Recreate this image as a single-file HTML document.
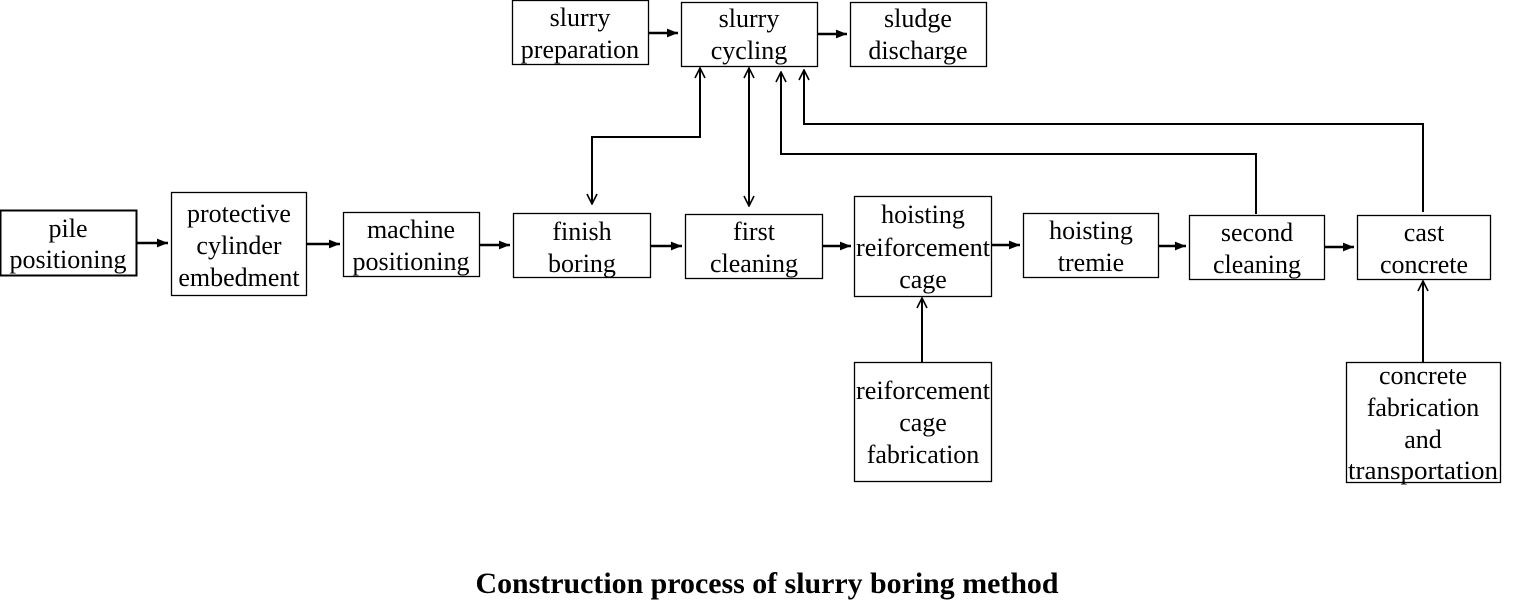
<!DOCTYPE html>
<html><head><meta charset="utf-8"><style>
html,body{margin:0;padding:0;background:#fff;}
svg{display:block;}
text{font-family:"Liberation Serif",serif;font-size:26px;fill:#000;}
</style></head><body>
<svg width="1513" height="607" viewBox="0 0 1513 607" xmlns="http://www.w3.org/2000/svg">
<defs>
<marker id="f" viewBox="0 0 10 10" refX="10" refY="5" markerWidth="11" markerHeight="11" markerUnits="userSpaceOnUse" orient="auto"><path d="M0,1 L10,5 L0,9z" fill="#000"/></marker>
<marker id="o" viewBox="0 0 12 12" refX="11" refY="6" markerWidth="12" markerHeight="12" markerUnits="userSpaceOnUse" orient="auto-start-reverse"><path d="M1,1 L11,6 L1,11" fill="none" stroke="#000" stroke-width="1.6"/></marker>
</defs>
<g fill="#fff" stroke="#000" stroke-width="1.3">
<rect x="0.5" y="210.5" width="136" height="65" stroke-width="2"/>
<rect x="171.5" y="192.5" width="135" height="103"/>
<rect x="343.5" y="212.5" width="136" height="64"/>
<rect x="513.5" y="213.5" width="137" height="64"/>
<rect x="685.5" y="214.5" width="137" height="64"/>
<rect x="854.5" y="196.5" width="137" height="100"/>
<rect x="1023.5" y="213.5" width="135" height="64"/>
<rect x="1189.5" y="215.5" width="135" height="64"/>
<rect x="1357.5" y="215.5" width="133" height="64"/>
<rect x="512.5" y="0.5" width="136" height="64"/>
<rect x="681.5" y="2.5" width="136" height="64"/>
<rect x="850.5" y="2.5" width="136" height="64"/>
<rect x="854.5" y="362.5" width="137" height="119"/>
<rect x="1346.5" y="362.5" width="154" height="120"/>
</g>
<g stroke="#000" stroke-width="2.5" fill="none">
<line x1="137" y1="243" x2="168" y2="243" marker-end="url(#f)"/>
<line x1="307" y1="244" x2="340" y2="244" marker-end="url(#f)"/>
<line x1="479" y1="245" x2="510" y2="245" marker-end="url(#f)"/>
<line x1="650" y1="246" x2="682" y2="246" marker-end="url(#f)"/>
<line x1="822" y1="246" x2="851" y2="246" marker-end="url(#f)"/>
<line x1="991" y1="245" x2="1020" y2="245" marker-end="url(#f)"/>
<line x1="1158" y1="246" x2="1186" y2="246" marker-end="url(#f)"/>
<line x1="1324" y1="247" x2="1354" y2="247" marker-end="url(#f)"/>
<line x1="648" y1="33" x2="678" y2="33" marker-end="url(#f)"/>
<line x1="817" y1="34" x2="847" y2="34" marker-end="url(#f)"/>
</g>
<g stroke="#000" stroke-width="2" fill="none">
<polyline points="592,204 592,137 700,137 700,68" marker-end="url(#o)" marker-start="url(#o)"/>
<line x1="749" y1="68" x2="749" y2="206" marker-end="url(#o)" marker-start="url(#o)"/>
<polyline points="1256,214 1256,154 781,154 781,72" marker-end="url(#o)"/>
<polyline points="1423,212 1423,124 804,124 804,70" marker-end="url(#o)"/>
<line x1="922" y1="362" x2="922" y2="298" marker-end="url(#o)"/>
<line x1="1423" y1="362" x2="1423" y2="281" marker-end="url(#o)"/>
</g>
<g text-anchor="middle">
<text x="68" y="237">pile</text><text x="68" y="268">positioning</text>
<text x="239" y="222">protective</text><text x="239" y="254">cylinder</text><text x="239" y="286">embedment</text>
<text x="411" y="238">machine</text><text x="411" y="270">positioning</text>
<text x="582" y="240">finish</text><text x="582" y="272">boring</text>
<text x="754" y="240">first</text><text x="754" y="272">cleaning</text>
<text x="923" y="223">hoisting</text><text x="923" y="256" textLength="134" lengthAdjust="spacingAndGlyphs">reiforcement</text><text x="923" y="288">cage</text>
<text x="1091" y="239">hoisting</text><text x="1091" y="271">tremie</text>
<text x="1257" y="241">second</text><text x="1257" y="273">cleaning</text>
<text x="1424" y="241">cast</text><text x="1424" y="273">concrete</text>
<text x="580" y="26">slurry</text><text x="580" y="58">preparation</text>
<text x="749" y="27">slurry</text><text x="749" y="59">cycling</text>
<text x="918" y="27">sludge</text><text x="918" y="59">discharge</text>
<text x="923" y="399" textLength="134" lengthAdjust="spacingAndGlyphs">reiforcement</text><text x="923" y="431">cage</text><text x="923" y="463">fabrication</text>
<text x="1423" y="384">concrete</text><text x="1423" y="416">fabrication</text><text x="1423" y="448">and</text><text x="1423" y="479" textLength="150" lengthAdjust="spacingAndGlyphs">transportation</text>
<text x="767" y="593" style="font-weight:bold;font-size:30px" textLength="583" lengthAdjust="spacingAndGlyphs">Construction process of slurry boring method</text>
</g>
</svg>
</body></html>
